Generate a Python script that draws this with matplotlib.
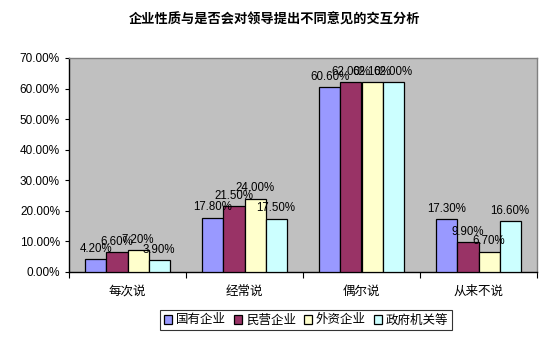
import matplotlib
matplotlib.use("Agg")
import matplotlib.pyplot as plt
from matplotlib.ticker import FuncFormatter, FixedLocator
import numpy as np

categories = ["每次说", "经常说", "偶尔说", "从来不说"]
series_names = ["国有企业", "民营企业", "外资企业", "政府机关等"]
guoyou = [4.20, 17.80, 60.60, 17.30]
minying = [6.60, 21.50, 62.00, 9.90]
waizi = [7.20, 24.00, 62.10, 6.70]
zhengfu = [3.90, 17.50, 62.00, 16.60]
series_values = [guoyou, minying, waizi, zhengfu]
colors = ["#9999FF", "#993366", "#FFFFCC", "#CCFFFF"]
title = "企业性质与是否会对领导提出不同意见的交互分析"

plt.rcParams['font.family'] = ['Liberation Sans', 'Noto Sans CJK SC', 'DejaVu Sans']
cjk = ['Noto Sans CJK SC', 'DejaVu Sans']

fig = plt.figure(figsize=(5.54, 3.40), dpi=100)
W, H = 554, 340
ax = fig.add_axes([69 / W, 1 - 272 / H, (537 - 69) / W, (272 - 58) / H])
ax.set_facecolor("#C0C0C0")

x = np.arange(len(categories))
bw = 0.18
for i, (vals, c) in enumerate(zip(series_values, colors)):
    pos = x + (i - 1.5) * bw
    ax.bar(pos, vals, width=bw, color=c, edgecolor="black", linewidth=0.9, label=series_names[i], zorder=3)
    for p, v in zip(pos, vals):
        ax.annotate(f"{v:.2f}%", (p, v), xytext=(0, 3), textcoords="offset points",
                    ha="center", va="bottom", fontsize=8.3, zorder=4)

ax.set_xlim(-0.5, len(categories) - 0.5)
ax.set_ylim(0, 70)
ax.set_yticks(np.arange(0, 71, 10))
ax.yaxis.set_major_formatter(FuncFormatter(lambda v, p: f"{v:.2f}%"))
ax.tick_params(axis='y', labelsize=8.5, length=3, direction='out', width=0.8)
ax.set_xticks(x)
ax.set_xticklabels(categories, fontfamily=cjk, fontsize=9)
ax.tick_params(axis='x', length=0, pad=9)
ax.xaxis.set_minor_locator(FixedLocator(np.arange(-0.5, len(categories), 1.0)))
ax.tick_params(axis='x', which='minor', length=4, direction='out', width=0.8)

for s in ['left', 'bottom']:
    ax.spines[s].set_color('black')
    ax.spines[s].set_linewidth(1.0)
for s in ['top', 'right']:
    ax.spines[s].set_color('#808080')
    ax.spines[s].set_linewidth(1.0)

fig.text(275 / W, 1 - 20 / H, title, ha='center', va='center', fontsize=9.5,
         fontweight='bold', fontfamily=cjk)

leg = fig.legend(loc='center', bbox_to_anchor=(306 / W, 1 - 320 / H), ncol=4,
                 prop={'family': cjk, 'size': 9}, frameon=True, fancybox=False,
                 edgecolor='black', handlelength=0.7, handleheight=0.7,
                 handletextpad=0.3, columnspacing=0.6, borderpad=0.25)
leg.get_frame().set_linewidth(0.8)

fig.savefig("out.png", dpi=100)
